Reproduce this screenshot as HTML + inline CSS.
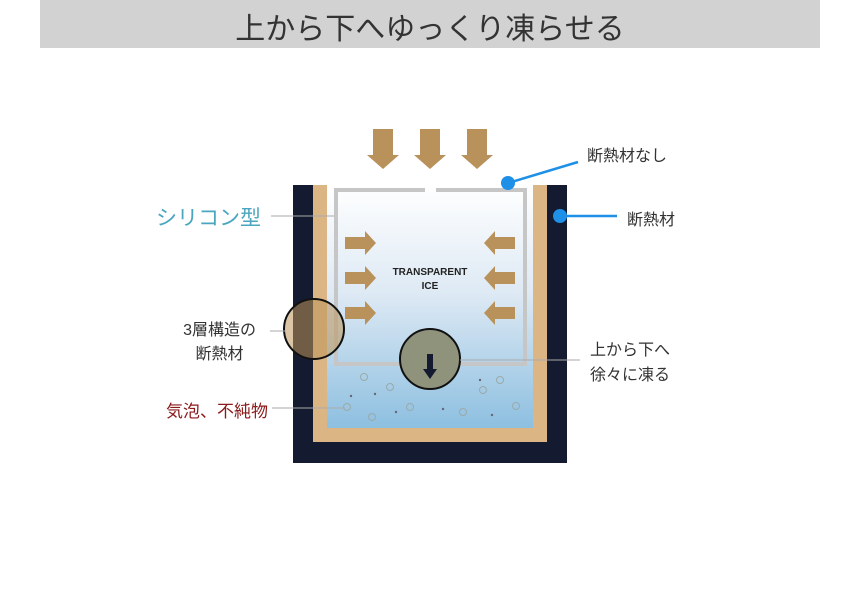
<!DOCTYPE html>
<html><head><meta charset="utf-8"><style>
body{margin:0;width:860px;height:591px;background:#fff;overflow:hidden;position:relative;font-family:"Liberation Sans","Noto Sans CJK JP",sans-serif}
.t{position:absolute;white-space:nowrap}
</style></head><body>
<div style="position:absolute;left:40px;top:0;width:780px;height:48px;background:#d2d2d2"></div>
<div class="t" style="left:40px;width:780px;top:4px;text-align:center;font-size:30px;color:#333">上から下へゆっくり凍らせる</div>
<svg width="860" height="591" style="position:absolute;left:0;top:0">
<defs><linearGradient id="w" x1="0" y1="0" x2="0" y2="1"><stop offset="0" stop-color="#ffffff"/><stop offset="0.45" stop-color="#dde9f4"/><stop offset="1" stop-color="#8dbfe0"/></linearGradient></defs>
<rect x="293" y="185" width="274" height="278" fill="#141a30"/>
<rect x="313" y="185" width="234" height="257" fill="#dcb585"/>
<rect x="327" y="185" width="206" height="243" fill="url(#w)"/>
<path d="M425 190 H336 V364 H525 V190 H436" fill="none" stroke="#c6c6c6" stroke-width="4"/>
<g fill="#b8925a">
<path d="M373 129h20v26h6l-16 14l-16-14h6z"/>
<path d="M420 129h20v26h6l-16 14l-16-14h6z"/>
<path d="M467 129h20v26h6l-16 14l-16-14h6z"/>
<path d="M345 237h20v-6l11 12l-11 12v-6h-20z"/>
<path d="M345 272h20v-6l11 12l-11 12v-6h-20z"/>
<path d="M345 307h20v-6l11 12l-11 12v-6h-20z"/>
<path d="M515 237h-20v-6l-11 12l11 12v-6h20z"/>
<path d="M515 272h-20v-6l-11 12l11 12v-6h20z"/>
<path d="M515 307h-20v-6l-11 12l11 12v-6h20z"/>
</g>
<text x="430" y="275" font-size="10" font-weight="bold" text-anchor="middle" fill="#222" font-family="Liberation Sans">TRANSPARENT</text>
<text x="430" y="289" font-size="10" font-weight="bold" text-anchor="middle" fill="#222" font-family="Liberation Sans">ICE</text>
<g fill="none" stroke="#9aa" stroke-width="1">
<circle cx="364" cy="377" r="3.5"/><circle cx="390" cy="387" r="3.5"/><circle cx="347" cy="407" r="3.5"/><circle cx="372" cy="417" r="3.5"/><circle cx="410" cy="407" r="3.5"/><circle cx="463" cy="412" r="3.5"/><circle cx="483" cy="390" r="3.5"/><circle cx="500" cy="380" r="3.5"/><circle cx="516" cy="406" r="3.5"/><circle cx="433" cy="343" r="3.5"/>
</g>
<g fill="#667"><circle cx="351" cy="396" r="1.2"/><circle cx="375" cy="394" r="1.2"/><circle cx="396" cy="412" r="1.2"/><circle cx="443" cy="409" r="1.2"/><circle cx="480" cy="380" r="1.2"/><circle cx="492" cy="415" r="1.2"/><circle cx="415" cy="350" r="1.2"/></g>
<circle cx="314" cy="329" r="30" fill="rgba(190,150,90,0.55)" stroke="#111" stroke-width="2"/>
<circle cx="430" cy="359" r="30" fill="#8f937c" stroke="#111" stroke-width="2"/>
<path d="M427 354h6v15h4l-7 10l-7-10h4z" fill="#141a30"/>
<g stroke="#aaa" stroke-width="1">
<line x1="271" y1="216" x2="334" y2="216"/>
<line x1="270" y1="331" x2="285" y2="331"/>
<line x1="272" y1="408" x2="345" y2="408"/>
<line x1="460" y1="360" x2="580" y2="360"/>
</g>
<g stroke="#1e90e8" stroke-width="2.5" fill="#1e90e8">
<line x1="508" y1="183" x2="578" y2="162"/><circle cx="508" cy="183" r="7" stroke="none"/>
<line x1="560" y1="216" x2="617" y2="216"/><circle cx="560" cy="216" r="7" stroke="none"/>
</g>
</svg>
<div class="t" style="right:599px;top:202px;font-size:21px;color:#4aa6be">シリコン型</div>
<div class="t" style="right:604px;top:319px;font-size:16px;color:#333;text-align:center;line-height:24px">3層構造の<br>断熱材</div>
<div class="t" style="right:592px;top:397px;font-size:17px;color:#8b1a1a">気泡、不純物</div>
<div class="t" style="left:587px;top:142px;font-size:16px;color:#333">断熱材なし</div>
<div class="t" style="left:627px;top:206px;font-size:16px;color:#333">断熱材</div>
<div class="t" style="left:590px;top:338px;font-size:16px;color:#333;line-height:25px">上から下へ<br>徐々に凍る</div>
</body></html>
